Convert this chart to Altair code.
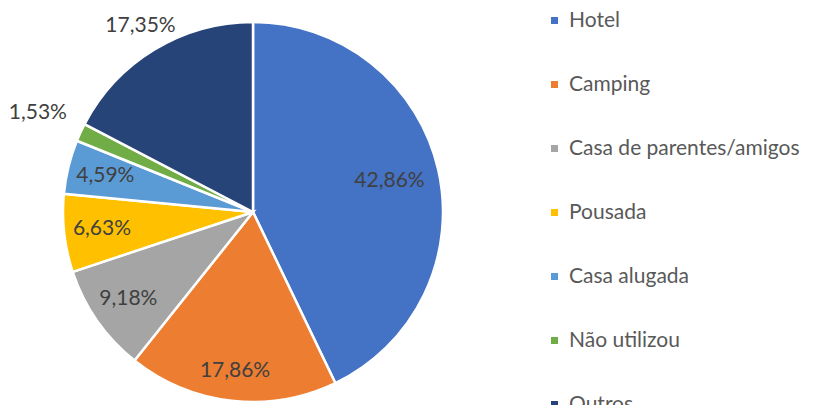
import altair as alt
import pandas as pd

categories = ["Hotel", "Camping", "Casa de parentes/amigos", "Pousada",
              "Casa alugada", "Não utilizou", "Outros"]
values = [42.86, 17.86, 9.18, 6.63, 4.59, 1.53, 17.35]
labels = ["42,86%", "17,86%", "9,18%", "6,63%", "4,59%", "1,53%", "17,35%"]
colors = ["#4472C4", "#ED7D31", "#A5A5A5", "#FFC000", "#5B9BD5", "#70AD47", "#264478"]

df = pd.DataFrame({
    "category": categories,
    "value": values,
    "label": labels,
    "order": list(range(len(categories))),
})

FONT = "Lato"
CX, CY, R = 245, 204, 190

base = alt.Chart(df).encode(
    theta=alt.Theta("value:Q", stack=True),
    order=alt.Order("order:Q"),
    x=alt.value(CX),
    y=alt.value(CY),
)

pie = base.mark_arc(radius=R, stroke="white", strokeWidth=2.5).encode(
    color=alt.Color(
        "category:N",
        sort=categories,
        scale=alt.Scale(domain=categories, range=colors),
        legend=alt.Legend(
            title=None,
            orient="none",
            legendX=536,
            legendY=2,
            symbolType="square",
            symbolSize=49,
            symbolStrokeWidth=0,
            labelFont=FONT,
            labelFontSize=21,
            labelColor="#595959",
            labelOffset=4,
            rowPadding=42,
            labelLimit=400,
        ),
    )
)

# label distance from centre, per slice group
radius_groups = [
    (["Hotel"], 140),
    (["Camping"], 160),
    (["Casa de parentes/amigos", "Pousada", "Casa alugada"], 152),
    (["Não utilizou"], 237),
    (["Outros"], 217),
]

text_layers = []
for cats, rad in radius_groups:
    text_layers.append(
        base.mark_text(radius=rad, font=FONT, fontSize=21, color="#404040").encode(
            text=alt.condition(
                alt.FieldOneOfPredicate(field="category", oneOf=cats),
                alt.Text("label:N"),
                alt.value(""),
            )
        )
    )

chart = alt.layer(pie, *text_layers).properties(
    width=801, height=397, padding=0, autosize=alt.AutoSizeParams(type="none")
).configure_view(stroke=None)

chart.save("out.html", embed_options={"renderer": "svg", "actions": False})
